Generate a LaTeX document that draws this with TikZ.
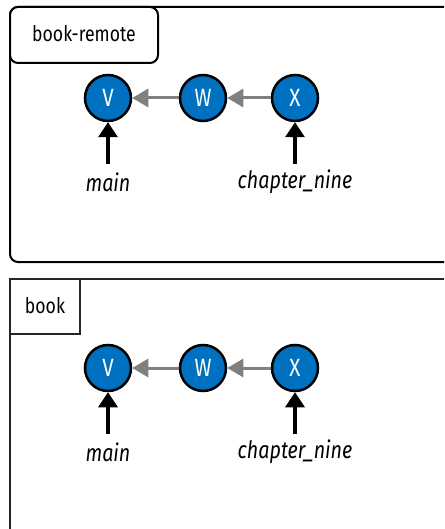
\documentclass[tikz,border=0pt]{standalone}
\usepackage{fontspec}
\setmainfont[FakeStretch=0.82]{Fira Sans}
\usetikzlibrary{arrows.meta}
\definecolor{cblue}{RGB}{0,112,192}
\definecolor{agray}{RGB}{128,128,128}
\begin{document}
\begin{tikzpicture}[x=1pt,y=-1pt,
  commit/.style={circle,draw=black,line width=2.5pt,fill=cblue,minimum size=46pt,inner sep=0pt,text=white,font=\fontsize{25}{25}\selectfont},
  parent/.style={draw=agray,line width=3pt,-{Triangle[length=16pt,width=18pt]}},
  ref/.style={draw=black,line width=3.2pt,-{Triangle[length=15pt,width=19pt]}},
  reflabel/.style={font=\fontsize{24}{24}\selectfont\itshape,inner sep=0pt},
  panellabel/.style={font=\fontsize{21.5}{21.5}\selectfont,inner sep=0pt}]
\useasboundingbox (0,0) rectangle (444,529);
\clip (0,0) rectangle (444,529);
% top panel
\draw[line width=2pt,rounded corners=8pt] (10,7) rectangle (470,262);
\draw[line width=2pt,rounded corners=8pt,fill=white] (10,7) rectangle (158,63);
\node[panellabel] (lt) at (84,34) {book-remote};
\node[commit] (v1) at (108,98) {V};
\node[commit] (w1) at (203,98) {W};
\node[commit] (x1) at (295,98) {X};
\draw[parent] (w1) -- (v1);
\draw[parent] (x1) -- (w1);
\coordinate (m1) at (108,164);
\coordinate (c1) at (295,164);
\draw[ref] (m1) -- (v1);
\draw[ref] (c1) -- (x1);
\node[reflabel] (ml1) at (108,182) {main};
\node[reflabel] (cl1) at (295,182) {chapter\_nine};
% bottom panel
\draw[line width=2pt,draw=black!85] (10,279) rectangle (470,560);
\draw[line width=2pt,draw=black!85,fill=white] (10,279) rectangle (80,334);
\node[panellabel] (lb) at (45,306) {book};
\node[commit] (v2) at (108,368) {V};
\node[commit] (w2) at (203,368) {W};
\node[commit] (x2) at (295,368) {X};
\draw[parent] (w2) -- (v2);
\draw[parent] (x2) -- (w2);
\coordinate (m2) at (108,434);
\coordinate (c2) at (295,434);
\draw[ref] (m2) -- (v2);
\draw[ref] (c2) -- (x2);
\node[reflabel] (ml2) at (108,452) {main};
\node[reflabel] (cl2) at (295,452) {chapter\_nine};
\end{tikzpicture}
\end{document}
